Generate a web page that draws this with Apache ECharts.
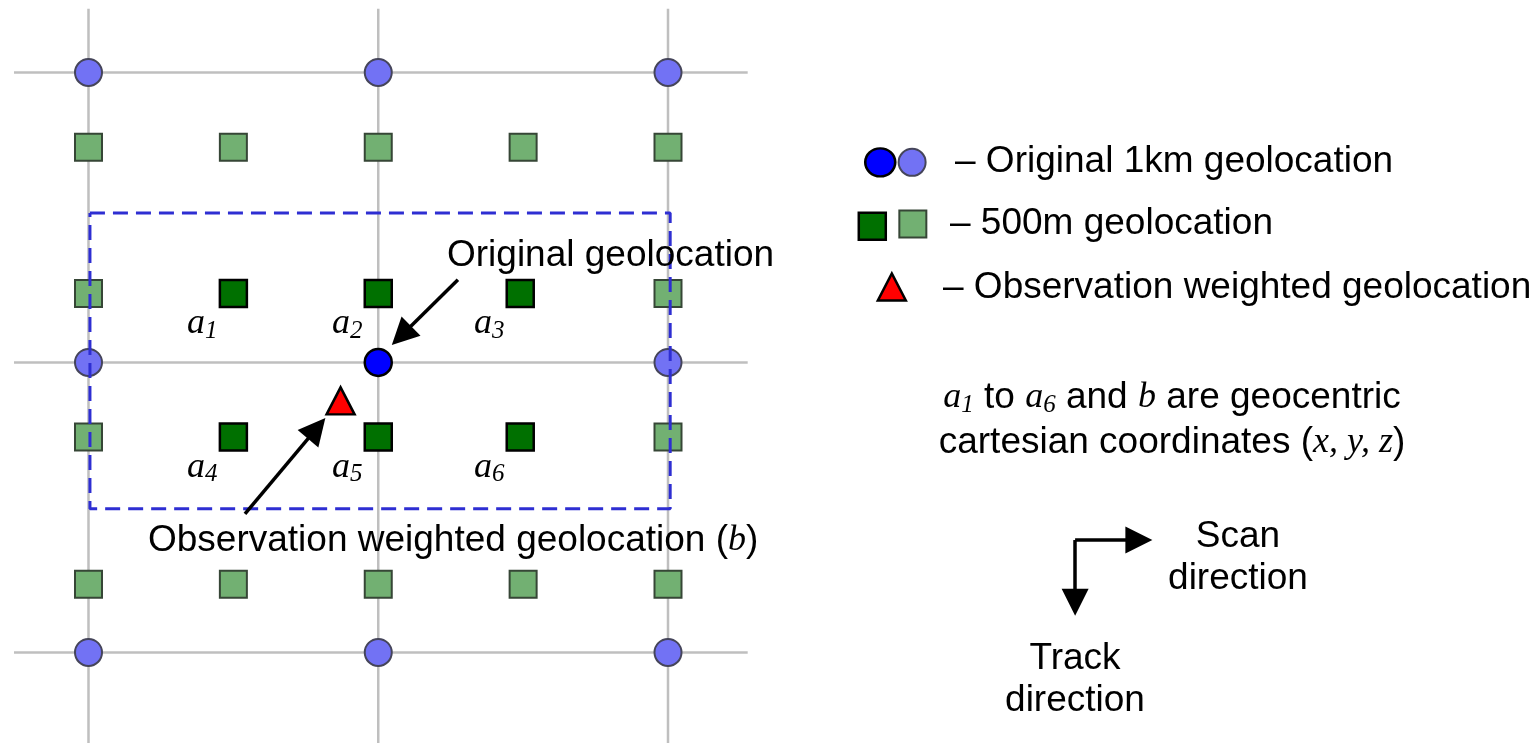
<!DOCTYPE html>
<html>
<head>
<meta charset="utf-8">
<style>
  html, body { margin: 0; padding: 0; background: #fff; }
  #chart { width: 1540px; height: 743px; }
</style>
<script src="https://cdn.jsdelivr.net/npm/echarts@6/dist/echarts.min.js"></script>
</head>
<body>
<div id="chart"></div>
<script>
// one unit = a quarter of the 1km pixel spacing
const gridPos = [0, 4, 8]
const pixel1km = [[0, 0], [4, 0], [8, 0], [0, 4], [8, 4], [0, 8], [4, 8], [8, 8]]
const origin1km = [[4, 4]]
const pixel500 = [[0, 1.03], [2, 1.03], [4, 1.03], [6, 1.03], [8, 1.03],
  [0, 3.05], [8, 3.05], [0, 5.03], [8, 5.03],
  [0, 7.06], [2, 7.06], [4, 7.06], [6, 7.06], [8, 7.06]]
const inner500 = [[2, 3.05], [4, 3.05], [5.96, 3.05], [2, 5.03], [4, 5.03], [5.96, 5.03]]
const innerNames = ['1', '2', '3', '4', '5', '6']
const weighted = [[3.48, 4.53]]
const windowBox = [[0.02, 1.94], [8.03, 1.94], [8.03, 6.02], [0.02, 6.02], [0.02, 1.94]]
const pointers = [
  [[5.10, 2.86], [4.32, 3.63]],
  [[2.16, 6.09], [3.15, 4.91]]
]
const dirArrows = [
  [[13.62, 6.45], [14.50, 6.45]],
  [[13.62, 6.45], [13.62, 7.31]]
]
// legend swatches
const keyCircle = [[10.93, 1.24]]
const keyCircleLight = [[11.37, 1.24]]
const keySquare = [[10.82, 2.12]]
const keySquareLight = [[11.38, 2.09]]
const keyTriangle = [[11.09, 2.96]]

const SANS = "'Liberation Sans', Arial, sans-serif"
const SERIF = "'Liberation Serif', 'Times New Roman', serif"

const rich = {
  i: { fontFamily: SERIF, fontStyle: 'italic', fontSize: 36, lineHeight: 40, color: '#000' },
  s: { fontFamily: SERIF, fontStyle: 'italic', fontSize: 25, lineHeight: 5, verticalAlign: 'bottom', color: '#000' }
}

const lightCircle = { color: '#7272f4', borderColor: '#45455a', borderWidth: 2, opacity: 1 }
const lightSquare = { color: '#72b072', borderColor: '#364636', borderWidth: 2, opacity: 1 }
const darkCircle = { color: '#0000ff', borderColor: '#000', borderWidth: 2.5, opacity: 1 }
const darkSquare = { color: '#007000', borderColor: '#000', borderWidth: 2.5, opacity: 1 }
const redTri = { color: '#ff0000', borderColor: '#000', borderWidth: 2.5, opacity: 1 }

const series = []
gridPos.forEach(g => {
  series.push({ type: 'line', z: 1, silent: true, symbol: 'none', data: [[g, -0.88], [g, 9.3]],
    lineStyle: { color: '#bfbfbf', width: 2.5 } })
  series.push({ type: 'line', z: 1, silent: true, symbol: 'none', data: [[-1.08, g], [9.1, g]],
    lineStyle: { color: '#bfbfbf', width: 2.5 } })
})
series.push(
  { type: 'scatter', z: 2, symbol: 'circle', symbolSize: 27, data: pixel1km, itemStyle: lightCircle },
  { type: 'scatter', z: 2, symbol: 'rect', symbolSize: 27, data: pixel500, itemStyle: lightSquare },
  { type: 'line', z: 3, symbol: 'none', data: windowBox,
    lineStyle: { color: '#2e2ed2', width: 3, type: [15, 8] } },
  { type: 'scatter', z: 4, symbol: 'circle', symbolSize: 27, data: origin1km, itemStyle: darkCircle },
  { type: 'scatter', z: 4, symbol: 'rect', symbolSize: 27, data: inner500, itemStyle: darkSquare,
    label: {
      show: true, position: 'inside', offset: [-31, 30],
      formatter: p => '{i|a}{s|' + innerNames[p.dataIndex] + '}',
      rich: rich
    } },
  { type: 'scatter', z: 4, symbol: 'triangle', symbolSize: [28, 27], data: weighted, itemStyle: redTri },
  { type: 'lines', z: 5, coordinateSystem: 'cartesian2d', symbol: ['none', 'triangle'], symbolSize: 27,
    data: pointers.map(c => ({ coords: c })), lineStyle: { color: '#000', width: 3.5, opacity: 1 } },
  { type: 'lines', z: 5, coordinateSystem: 'cartesian2d', symbol: ['none', 'triangle'], symbolSize: 27,
    data: dirArrows.map(c => ({ coords: c })), lineStyle: { color: '#000', width: 3.5, opacity: 1 } },
  { type: 'scatter', z: 4, symbol: 'circle', symbolSize: [30, 28], data: keyCircle, itemStyle: darkCircle },
  { type: 'scatter', z: 4, symbol: 'circle', symbolSize: 27, data: keyCircleLight, itemStyle: lightCircle },
  { type: 'scatter', z: 4, symbol: 'rect', symbolSize: 27, data: keySquare, itemStyle: darkSquare },
  { type: 'scatter', z: 4, symbol: 'rect', symbolSize: 27, data: keySquareLight, itemStyle: lightSquare },
  { type: 'scatter', z: 4, symbol: 'triangle', symbolSize: [28, 27], data: keyTriangle, itemStyle: redTri }
)

function txt(x, y, text, align) {
  return {
    type: 'text', x: x, y: y, z: 10,
    style: {
      text: text, rich: rich, fill: '#000', fontFamily: SANS, fontSize: 37, lineHeight: 40,
      align: align || 'left', textAlign: align || 'left',
      verticalAlign: 'middle', textVerticalAlign: 'middle'
    }
  }
}

const chart = echarts.init(document.getElementById('chart'))
chart.setOption({
  animation: false,
  grid: { left: 16.06, top: -0.75, width: 1521.2, height: 745.7 },
  xAxis: { type: 'value', min: -1, max: 20, show: false },
  yAxis: { type: 'value', min: -1, max: 9.25, inverse: true, show: false },
  series: series,
  graphic: [
    txt(447, 256, 'Original geolocation'),
    txt(148, 541, 'Observation weighted geolocation ({i|b})'),
    txt(955, 162, '– Original 1km geolocation'),
    txt(950, 224, '– 500m geolocation'),
    txt(943, 288, '– Observation weighted geolocation'),
    txt(1172, 398, '{i|a}{s|1} to {i|a}{s|6} and {i|b} are geocentric', 'center'),
    txt(1172, 443, 'cartesian coordinates ({i|x, y, z})', 'center'),
    txt(1238, 537, 'Scan', 'center'),
    txt(1238, 579, 'direction', 'center'),
    txt(1075, 659, 'Track', 'center'),
    txt(1075, 701, 'direction', 'center')
  ]
})
</script>
</body>
</html>
